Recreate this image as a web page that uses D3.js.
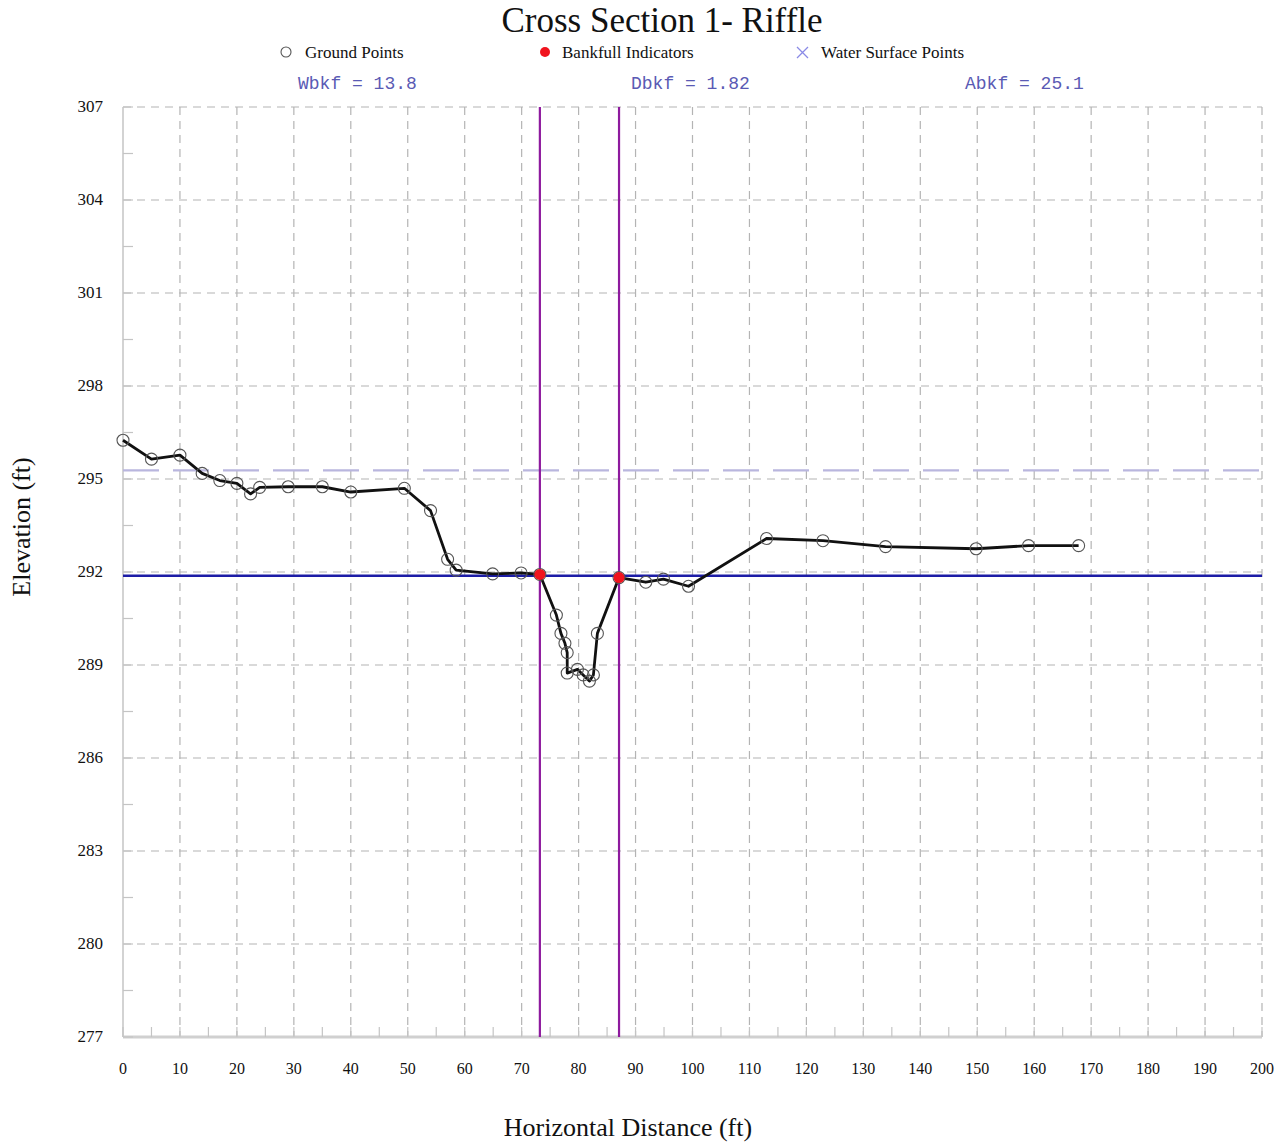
<!DOCTYPE html>
<html>
<head>
<meta charset="utf-8">
<script src="https://cdn.jsdelivr.net/npm/d3@7"></script>
<style>
  html, body { margin: 0; padding: 0; background: #fff; }
  svg { display: block; }
  .serif { font-family: "Liberation Serif", "DejaVu Serif", serif; }
  .mono { font-family: "Liberation Mono", "DejaVu Sans Mono", monospace; }
</style>
</head>
<body>
<svg id="chart" width="1286" height="1143"></svg>
<script>
// Surveyed ground points across the riffle (station ft, elevation ft)
const groundStation = [0, 5, 10, 13.9, 17, 20, 22.4, 24, 29, 35, 40, 49.4, 54, 57, 58.5, 64.9, 69.9, 73.2,
  76.1, 76.9, 77.6, 78, 78, 79.8, 80.8, 81.9, 82.6, 83.3, 87.1, 91.8, 94.9, 99.3,
  113, 122.9, 133.9, 149.8, 159, 167.8];
const groundElevation = [296.25, 295.64, 295.77, 295.18, 294.95, 294.86, 294.52, 294.73, 294.75, 294.75, 294.58, 294.7, 293.98, 292.41, 292.06, 291.94, 291.97, 291.92,
  290.61, 290.02, 289.7, 289.4, 288.74, 288.86, 288.68, 288.48, 288.68, 290.02, 291.82, 291.67, 291.77, 291.54,
  293.08, 293.01, 292.82, 292.75, 292.85, 292.85];

// Bankfull indicator points (left and right banks)
const bankfullStation = [73.2, 87.1];
const bankfullElevation = [291.92, 291.82];

// Bankfull water surface and flood-prone elevations
const bankfullStage = 291.88;
const floodProneStage = 295.28;

// Summary statistics printed above the plot
const statLabels = ["Wbkf = 13.8", "Dbkf = 1.82", "Abkf = 25.1"];

// Legend entries
const legendLabels = ["Ground Points", "Bankfull Indicators", "Water Surface Points"];

// Axis ticks
const xTicks = d3.range(0, 201, 10);
const yTicks = [277, 280, 283, 286, 289, 292, 295, 298, 301, 304, 307];

const svg = d3.select("#chart");
const plotLeft = 123, plotRight = 1262, plotTop = 107, plotBottom = 1037;

const x = d3.scaleLinear().domain([0, 200]).range([plotLeft, plotRight]);
const y = d3.scaleLinear().domain([277, 307]).range([plotBottom, plotTop]);

const gridColor = "#b4b4b4";

// Grid
svg.append("g").selectAll("line").data(yTicks).join("line")
  .attr("x1", plotLeft).attr("x2", plotRight)
  .attr("y1", d => y(d)).attr("y2", d => y(d))
  .attr("stroke", gridColor).attr("stroke-width", 1.2).attr("stroke-dasharray", "8,6");
svg.append("g").selectAll("line").data(xTicks.filter(d => d > 0)).join("line")
  .attr("x1", d => x(d)).attr("x2", d => x(d))
  .attr("y1", plotTop).attr("y2", plotBottom)
  .attr("stroke", gridColor).attr("stroke-width", 1.2).attr("stroke-dasharray", "8,6");

// Axis lines
svg.append("line").attr("x1", plotLeft).attr("x2", plotLeft).attr("y1", plotTop).attr("y2", plotBottom)
  .attr("stroke", "#c4c4c4").attr("stroke-width", 1.5);
svg.append("line").attr("x1", plotLeft).attr("x2", plotRight).attr("y1", plotBottom).attr("y2", plotBottom)
  .attr("stroke", "#d0d0d0").attr("stroke-width", 3);

// Minor ticks
svg.append("g").selectAll("line").data(d3.range(0, 201, 5)).join("line")
  .attr("x1", d => x(d)).attr("x2", d => x(d))
  .attr("y1", plotBottom - 10).attr("y2", plotBottom)
  .attr("stroke", "#c4c4c4").attr("stroke-width", 1.2);
svg.append("g").selectAll("line").data(d3.range(277, 307.01, 1.5)).join("line")
  .attr("x1", plotLeft).attr("x2", plotLeft + 10)
  .attr("y1", d => y(d)).attr("y2", d => y(d))
  .attr("stroke", "#c4c4c4").attr("stroke-width", 1.2);

// Tick labels
svg.append("g").selectAll("text").data(xTicks).join("text")
  .attr("class", "serif")
  .attr("x", d => x(d)).attr("y", plotBottom + 37)
  .attr("text-anchor", "middle").attr("font-size", 16).attr("fill", "#111")
  .text(d => d);
svg.append("g").selectAll("text").data(yTicks).join("text")
  .attr("class", "serif")
  .attr("x", 103).attr("y", d => y(d) + 5)
  .attr("text-anchor", "end").attr("font-size", 17).attr("fill", "#111")
  .text(d => d);

// Flood-prone elevation (dashed)
svg.append("line")
  .attr("x1", plotLeft).attr("x2", plotRight)
  .attr("y1", y(floodProneStage)).attr("y2", y(floodProneStage))
  .attr("stroke", "#b9b6de").attr("stroke-width", 2.2).attr("stroke-dasharray", "36,14");

// Bankfull stage
svg.append("line")
  .attr("x1", plotLeft).attr("x2", plotRight)
  .attr("y1", y(bankfullStage)).attr("y2", y(bankfullStage))
  .attr("stroke", "#1c1ca6").attr("stroke-width", 2.5);

// Bankfull verticals
svg.append("g").selectAll("line").data(bankfullStation).join("line")
  .attr("x1", d => x(d)).attr("x2", d => x(d))
  .attr("y1", plotTop).attr("y2", plotBottom)
  .attr("stroke", "#8e1a9e").attr("stroke-width", 2.2);

// Ground profile
const ground = groundStation.map((s, i) => [s, groundElevation[i]]);
svg.append("path")
  .datum(ground)
  .attr("fill", "none").attr("stroke", "#111").attr("stroke-width", 2.8)
  .attr("stroke-linejoin", "round")
  .attr("d", d3.line().x(d => x(d[0])).y(d => y(d[1])));

svg.append("g").selectAll("circle").data(ground).join("circle")
  .attr("cx", d => x(d[0])).attr("cy", d => y(d[1])).attr("r", 6)
  .attr("fill", "none").attr("stroke", "#555").attr("stroke-width", 1.1);

// Bankfull indicators
svg.append("g").selectAll("circle").data(bankfullStation.map((s, i) => [s, bankfullElevation[i]])).join("circle")
  .attr("cx", d => x(d[0])).attr("cy", d => y(d[1])).attr("r", 5.5)
  .attr("fill", "#f0141e");

// Title
svg.append("text").attr("class", "serif")
  .attr("x", 662).attr("y", 32).attr("text-anchor", "middle")
  .attr("font-size", 35).attr("fill", "#111")
  .text("Cross Section 1- Riffle");

// Legend
const legend = svg.append("g").attr("class", "serif").attr("font-size", 17).attr("fill", "#111");
legend.append("circle").attr("cx", 286).attr("cy", 52).attr("r", 5)
  .attr("fill", "none").attr("stroke", "#555").attr("stroke-width", 1.1);
legend.append("text").attr("x", 305).attr("y", 58).text(legendLabels[0]);
legend.append("circle").attr("cx", 545).attr("cy", 52).attr("r", 5).attr("fill", "#f0141e");
legend.append("text").attr("x", 562).attr("y", 58).text(legendLabels[1]);
legend.append("path")
  .attr("d", "M797,47 L808,58 M808,47 L797,58")
  .attr("stroke", "#8a8ae6").attr("stroke-width", 1.3);
legend.append("text").attr("x", 821).attr("y", 58).text(legendLabels[2]);

// Statistics
const statX = [298, 631, 965];
svg.append("g").selectAll("text").data(statLabels).join("text")
  .attr("class", "mono")
  .attr("x", (d, i) => statX[i]).attr("y", 89)
  .attr("font-size", 18).attr("fill", "#5a5ab4")
  .text(d => d);

// Axis titles
svg.append("text").attr("class", "serif")
  .attr("transform", "translate(30,527) rotate(-90)")
  .attr("text-anchor", "middle").attr("font-size", 26).attr("fill", "#111")
  .text("Elevation (ft)");
svg.append("text").attr("class", "serif")
  .attr("x", 628).attr("y", 1136).attr("text-anchor", "middle")
  .attr("font-size", 26).attr("fill", "#111")
  .text("Horizontal Distance (ft)");
</script>
</body>
</html>
